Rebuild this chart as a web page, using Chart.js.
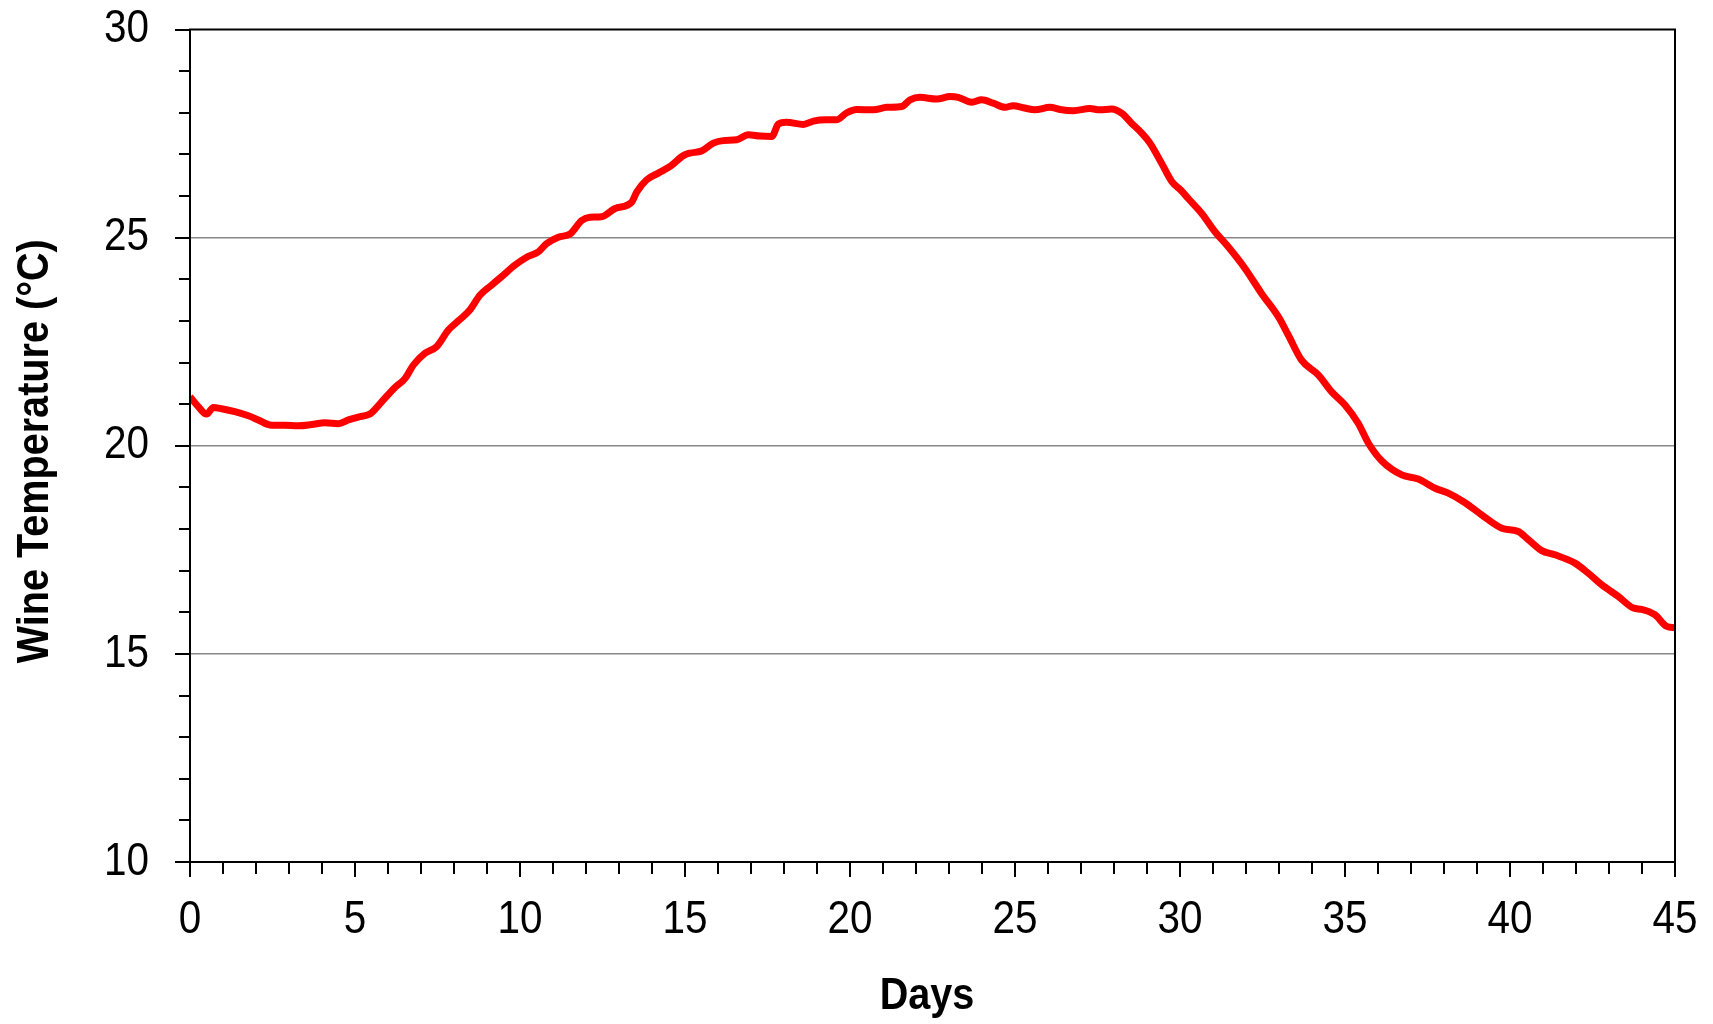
<!DOCTYPE html>
<html>
<head>
<meta charset="utf-8">
<title>Wine Temperature</title>
<script src="https://cdn.jsdelivr.net/npm/chart.js@4.4.1/dist/chart.umd.min.js"></script>
<style>
  html, body { margin: 0; padding: 0; background: #fff; }
  #wrap { width: 1713px; height: 1024px; position: relative; }
</style>
</head>
<body>
<div id="wrap"><canvas id="chart"></canvas></div>
<script>
// readings
const days = [
  0, 0.25, 0.5, 0.71, 0.96, 1.36, 1.77, 2.07, 2.42, 2.88, 3.28, 3.69, 4.09, 4.49, 4.8,
  5.1, 5.45, 5.66, 5.86, 6.21, 6.52, 6.77, 7.12, 7.47, 7.83, 8.13, 8.48, 8.79, 9.14, 9.44,
  9.85, 10.2, 10.56, 10.81, 11.16, 11.52, 11.87, 12.12, 12.47, 12.88, 13.38, 13.54, 13.84, 14.19, 14.55,
  14.95, 15.15, 15.5, 15.86, 16.16, 16.57, 16.92, 17.27, 17.63, 17.83, 18.08, 18.59, 18.89, 19.29, 19.59,
  19.9, 20.2, 20.71, 21.11, 21.57, 21.82, 22.12, 22.63, 23.03, 23.28, 23.69, 23.99, 24.34, 24.7, 24.95,
  25.25, 25.61, 26.06, 26.36, 26.77, 27.27, 27.57, 27.93, 28.23, 28.53, 28.84, 29.09, 29.44, 29.75, 30.05,
  30.25, 30.66, 31.06, 31.46, 31.97, 32.47, 32.98, 33.28, 33.69, 34.19, 34.59, 35.0, 35.4, 35.71, 36.11,
  36.72, 37.22, 37.73, 38.13, 38.64, 39.14, 39.75, 40.25, 40.56, 40.96, 41.36, 41.97, 42.37, 42.78, 43.28,
  43.74, 43.99, 44.39, 44.75, 45
];
const temps = [
  21.18, 20.94, 20.76, 20.92, 20.89, 20.82, 20.72, 20.62, 20.5, 20.49, 20.48, 20.51, 20.55, 20.53, 20.62,
  20.69, 20.76, 20.92, 21.1, 21.4, 21.62, 21.94, 22.22, 22.38, 22.78, 23.0, 23.26, 23.62, 23.86, 24.06,
  24.34, 24.53, 24.66, 24.86, 25.01, 25.09, 25.41, 25.49, 25.5, 25.7, 25.85, 26.1, 26.39, 26.55, 26.71,
  26.97, 27.03, 27.08, 27.27, 27.33, 27.35, 27.47, 27.44, 27.43, 27.73, 27.77, 27.72, 27.8, 27.83, 27.83,
  28.0, 28.08, 28.07, 28.13, 28.15, 28.31, 28.37, 28.33, 28.39, 28.37, 28.25, 28.31, 28.23, 28.13, 28.17,
  28.12, 28.07, 28.13, 28.08, 28.05, 28.1, 28.07, 28.09, 27.99, 27.75, 27.51, 27.27, 26.79, 26.35, 26.12,
  25.94, 25.58, 25.14, 24.78, 24.26, 23.66, 23.1, 22.66, 22.05, 21.7, 21.3, 20.98, 20.54, 20.06, 19.64,
  19.3, 19.2, 18.98, 18.86, 18.63, 18.34, 18.02, 17.94, 17.74, 17.48, 17.38, 17.18, 16.94, 16.66, 16.38,
  16.1, 16.07, 15.94, 15.66, 15.63
];
const yGridLines = [15, 20, 25];
const xTitle = "Days ";
const yTitle = "Wine Temperature (\u00B0C) ";

const FONT = "'Liberation Sans', Arial, sans-serif";
const SQUEEZE = 0.88; // the original uses a narrow face

const points = days.map((d, i) => ({ x: d, y: temps[i] }));

// squeeze every label horizontally round its anchor so it reads like a narrow font
const narrowText = {
  id: "narrowText",
  beforeInit(chart) {
    const ctx = chart.ctx;
    const orig = ctx.fillText.bind(ctx);
    ctx.fillText = function (text, x, y, maxWidth) {
      ctx.save();
      ctx.translate(x, y);
      ctx.scale(SQUEEZE, 1);
      if (maxWidth === undefined) orig(text, 0, 0);
      else orig(text, 0, 0, maxWidth / SQUEEZE);
      ctx.restore();
    };
  }
};

// box round the plot plus outward tick marks, long at every 5, short in between
const frameTicks = {
  id: "frameTicks",
  afterDraw(chart) {
    const { ctx, chartArea: a, scales } = chart;
    ctx.save();
    ctx.strokeStyle = "#000";
    ctx.lineWidth = 2;
    ctx.strokeRect(a.left, a.top, a.right - a.left, a.bottom - a.top);
    ctx.beginPath();
    for (let v = 10; v <= 30; v++) {
      const y = Math.round(scales.y.getPixelForValue(v));
      const len = v % 5 === 0 ? 15 : 11;
      ctx.moveTo(a.left - len, y);
      ctx.lineTo(a.left, y);
    }
    for (let d = 0; d <= 45; d++) {
      const x = Math.round(scales.x.getPixelForValue(d));
      const len = d % 5 === 0 ? 15 : 12;
      ctx.moveTo(x, a.bottom);
      ctx.lineTo(x, a.bottom + len);
    }
    ctx.stroke();
    ctx.restore();
  }
};

new Chart(document.getElementById("chart"), {
  type: "line",
  data: {
    datasets: [{
      data: points,
      borderColor: "#ff0000",
      borderWidth: 7,
      pointRadius: 0,
      cubicInterpolationMode: "monotone",
      borderJoinStyle: "round",
      borderCapStyle: "butt",
      fill: false
    }]
  },
  options: {
    responsive: true,
    maintainAspectRatio: false,
    animation: false,
    devicePixelRatio: 1,
    layout: { padding: { left: 0, top: 29.5, right: 38, bottom: 0 } },
    plugins: {
      legend: { display: false },
      tooltip: { enabled: false }
    },
    scales: {
      x: {
        type: "linear",
        min: 0,
        max: 45,
        afterFit(scale) {
          scale.height = 162;
          scale.paddingLeft = 0;
          scale.paddingRight = 0;
        },
        ticks: {
          stepSize: 1,
          autoSkip: false,
          maxRotation: 0,
          padding: 31,
          color: "#000",
          font: { family: FONT, size: 46 },
          callback: v => (v % 5 === 0 ? v : "")
        },
        grid: { display: false, drawTicks: false },
        border: { display: false },
        title: {
          display: true,
          text: xTitle,
          color: "#000",
          font: { family: FONT, size: 45, weight: "bold" },
          padding: { top: 0, bottom: 0 }
        }
      },
      y: {
        min: 10,
        max: 30,
        afterFit(scale) {
          scale.width = 190;
          scale.paddingTop = 0;
          scale.paddingBottom = 0;
        },
        ticks: {
          stepSize: 1,
          autoSkip: false,
          padding: 41,
          color: "#000",
          font: { family: FONT, size: 46 },
          callback: v => (v % 5 === 0 ? v : "")
        },
        grid: {
          drawTicks: false,
          lineWidth: 1.5,
          color: c => (yGridLines.includes(c.tick.value) ? "#888888" : "rgba(0,0,0,0)")
        },
        border: { display: false },
        title: {
          display: true,
          text: yTitle,
          color: "#000",
          font: { family: FONT, size: 45, weight: "bold" },
          padding: { top: 9, bottom: 0 }
        }
      }
    }
  },
  plugins: [narrowText, frameTicks]
});
</script>
</body>
</html>
